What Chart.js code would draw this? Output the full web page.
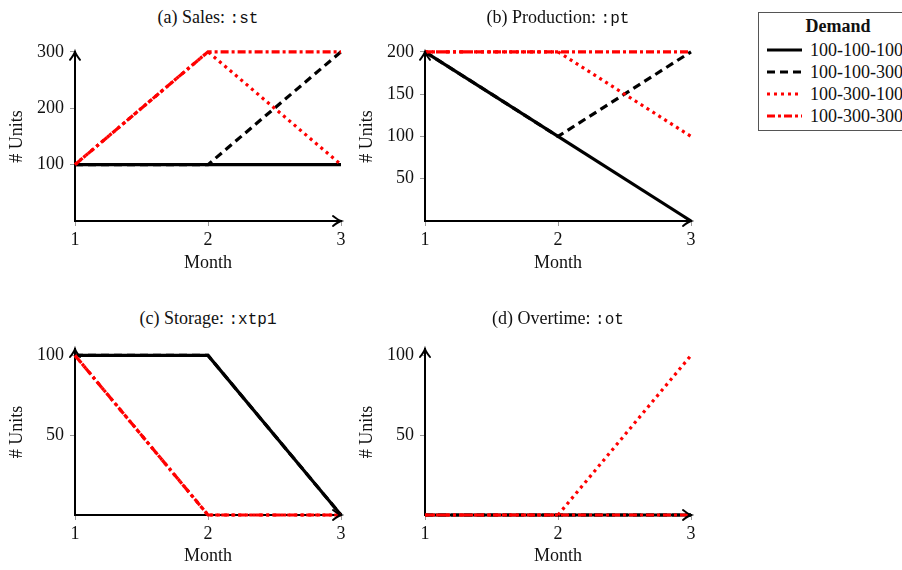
<!DOCTYPE html>
<html>
<head>
<meta charset="utf-8">
<script src="https://cdn.jsdelivr.net/npm/chart.js@4/dist/chart.umd.min.js"></script>
<style>
body{margin:0;background:#fff;width:902px;height:570px;position:relative;overflow:hidden;font-family:"Liberation Serif",serif;color:#111}
.panel{position:absolute}
.panel canvas{display:block}
.title{position:absolute;font-size:18px;white-space:nowrap;transform:translate(-50%,-50%)}
.title code{font-family:"Liberation Mono",monospace;font-size:16px}
#legend{position:absolute;left:758px;top:12px;width:160px;height:119px;border:1px solid #555;box-sizing:border-box}
#legend .head{position:absolute;left:0;width:158px;top:3px;text-align:center;font-weight:bold;font-size:18px;line-height:20px}
#legend .row{position:absolute;left:8px;height:20px;font-size:18px;line-height:20px;white-space:nowrap}
#legend svg{position:absolute;left:0;top:4px}
#legend span{position:absolute;left:43px;top:0}
</style>
</head>
<body>
<div id="legend"><div class="head">Demand</div></div>
<script>
// months on the x axis
const months = ['1', '2', '3'];
const demandLabels = ['100-100-100', '100-100-300', '100-300-100', '100-300-300'];

// one row per demand scenario
const sales = [[100, 100, 100], [100, 100, 300], [100, 300, 100], [100, 300, 300]];
const production = [[200, 100, 0], [200, 100, 200], [200, 200, 100], [200, 200, 200]];
const storage = [[100, 100, 0], [100, 100, 0], [100, 0, 0], [100, 0, 0]];
const overtime = [[0, 0, 0], [0, 0, 0], [0, 0, 100], [0, 0, 0]];

const salesTicks = [100, 200, 300];
const productionTicks = [50, 100, 150, 200];
const storageTicks = [50, 100];
const overtimeTicks = [50, 100];

const lineColors = ['#000', '#000', '#f00', '#f00'];
const lineDashes = [[], [8, 5], [3, 4], [8, 3, 3, 3]];

Chart.defaults.font.family = "'Liberation Serif', serif";
Chart.defaults.font.size = 18;
Chart.defaults.color = '#111';

function drawArrow(ctx, x, y, angle){
    ctx.save();
    ctx.translate(x, y);
    ctx.rotate(angle);
    ctx.strokeStyle = '#000';
    ctx.lineWidth = 2;
    ctx.lineCap = 'round';
    ctx.beginPath();
    ctx.moveTo(-8, -5);
    ctx.quadraticCurveTo(-3, -1, 0, 0);
    ctx.quadraticCurveTo(-3, 1, -8, 5);
    ctx.stroke();
    ctx.restore();
}

const axisArrows = {
    id: 'axisArrows',
    afterDatasetsDraw(chart){
        const {ctx, chartArea} = chart;
        drawArrow(ctx, chartArea.left, chartArea.top, -Math.PI / 2);
        drawArrow(ctx, chartArea.right, chartArea.bottom, 0);
    }
};

const panels = [
    {title: '(a) Sales: ', code: ':st', values: sales, ticks: salesTicks, yMax: 300,
     left: 0, top: 35, width: 360, height: 245, plotLeft: 75, plotRight: 341, plotTop: 48, plotBottom: 221, titleY: 17, monthPad: 6},
    {title: '(b) Production: ', code: ':pt', values: production, ticks: productionTicks, yMax: 200,
     left: 350, top: 35, width: 360, height: 245, plotLeft: 425, plotRight: 691, plotTop: 48, plotBottom: 221, titleY: 17, monthPad: 6},
    {title: '(c) Storage: ', code: ':xtp1', values: storage, ticks: storageTicks, yMax: 104,
     left: 0, top: 330, width: 360, height: 240, plotLeft: 75, plotRight: 341, plotTop: 349, plotBottom: 515, titleY: 318, monthPad: 3},
    {title: '(d) Overtime: ', code: ':ot', values: overtime, ticks: overtimeTicks, yMax: 104,
     left: 350, top: 330, width: 360, height: 240, plotLeft: 425, plotRight: 691, plotTop: 349, plotBottom: 515, titleY: 318, monthPad: 3}
];

function buildChart(p){
    const box = document.createElement('div');
    box.className = 'panel';
    box.style.left = p.left + 'px';
    box.style.top = p.top + 'px';
    const canvas = document.createElement('canvas');
    canvas.width = p.width;
    canvas.height = p.height;
    box.appendChild(canvas);
    document.body.appendChild(box);

    const title = document.createElement('div');
    title.className = 'title';
    title.style.left = (p.plotLeft + p.plotRight) / 2 + 'px';
    title.style.top = p.titleY + 'px';
    title.innerHTML = p.title + '<code>' + p.code + '</code>';
    document.body.appendChild(title);

    const axisBorder = {display: true, color: '#000', width: 2};

    return new Chart(canvas, {
        type: 'line',
        data: {
            labels: months,
            datasets: p.values.map((v, i) => ({
                label: demandLabels[i],
                data: v,
                borderColor: lineColors[i],
                borderDash: lineDashes[i],
                borderWidth: 3.2,
                borderCapStyle: 'butt',
                pointRadius: 0,
                tension: 0,
                fill: false,
                clip: false,
                order: 3 - i
            }))
        },
        options: {
            responsive: false,
            animation: false,
            devicePixelRatio: 1,
            layout: {padding: {left: 0, top: p.plotTop - p.top, right: p.left + p.width - p.plotRight, bottom: 0}},
            plugins: {legend: {display: false}, tooltip: {enabled: false}},
            scales: {
                x: {
                    offset: false,
                    border: axisBorder,
                    grid: {drawOnChartArea: false, tickLength: 5, color: '#999'},
                    ticks: {padding: 3, maxRotation: 0, autoSkip: false},
                    title: {display: true, text: 'Month', padding: {top: 0, bottom: p.monthPad}},
                    afterFit: s => { s.height = p.top + p.height - p.plotBottom; }
                },
                y: {
                    min: 0,
                    max: p.yMax,
                    border: axisBorder,
                    grid: {drawOnChartArea: false, tickLength: 5, color: '#999'},
                    ticks: {padding: 6},
                    afterBuildTicks: s => { s.ticks = p.ticks.map(v => ({value: v})); },
                    title: {display: true, text: '# Units', padding: {top: 6, bottom: 0}},
                    afterFit: s => { s.width = p.plotLeft - p.left; }
                }
            }
        },
        plugins: [axisArrows]
    });
}

panels.forEach(buildChart);

// shared legend
const legend = document.getElementById('legend');
demandLabels.forEach((lab, i) => {
    const row = document.createElement('div');
    row.className = 'row';
    row.style.top = (27 + i * 22) + 'px';
    const dash = lineDashes[i].length ? lineDashes[i].join(' ') : 'none';
    row.innerHTML = '<svg width="36" height="12"><line x1="0" y1="6" x2="35" y2="6" stroke="' + lineColors[i] +
        '" stroke-width="3" stroke-dasharray="' + dash + '"/></svg><span>' + lab + '</span>';
    legend.appendChild(row);
});
</script>
</body>
</html>
